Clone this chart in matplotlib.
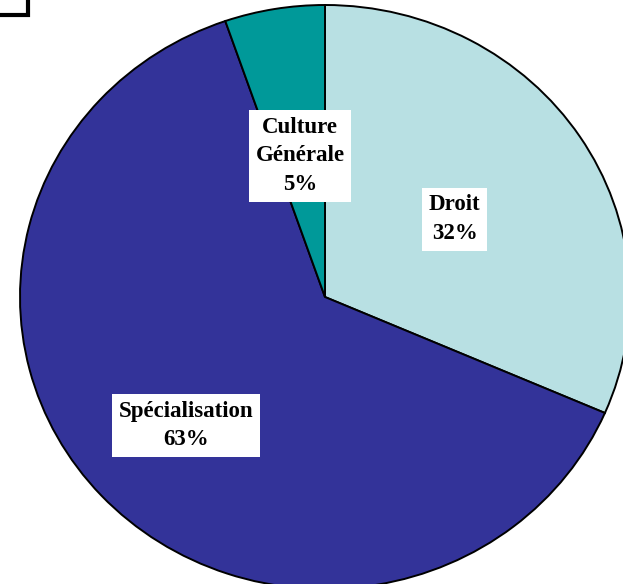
import matplotlib
matplotlib.use("Agg")
import matplotlib.pyplot as plt
from matplotlib.patches import Rectangle

categories = ["Droit", "Spécialisation", "Culture\nGénérale"]
values = [31.5, 63.2, 5.3]
pct_labels = ["32%", "63%", "5%"]
colors = ["#B8E0E3", "#333399", "#009999"]
label_pos = [(0.425, 0.267), (-0.456, -0.44), (-0.082, 0.483)]

W, H = 623, 584
fig = plt.figure(figsize=(W / 100, H / 100), dpi=100)
ax = fig.add_axes([0, 0, 1, 1])
cx, cy, rx, ry = 325, 297, 305, 292

ax.pie(values, colors=colors, startangle=90, counterclock=False,
       radius=1, center=(0, 0), frame=False,
       wedgeprops=dict(edgecolor="black", linewidth=1.4))
ax.set_xlim(-cx / rx, (W - cx) / rx)
ax.set_ylim(-(H - cy) / ry, cy / ry)
ax.set_aspect("auto")
ax.axis("off")

for cat, pct, (x, y) in zip(categories, pct_labels, label_pos):
    ax.text(x, y, f"{cat}\n{pct}", ha="center", va="center",
            family="Liberation Serif", fontweight="bold", fontsize=16.5,
            linespacing=1.45,
            bbox=dict(facecolor="white", edgecolor="none", pad=5))

fig.patches.append(Rectangle((-10, H - 15), 38, 25, transform=None,
                             fill=False, edgecolor="black", linewidth=3))

fig.savefig("out.png", dpi=100)
